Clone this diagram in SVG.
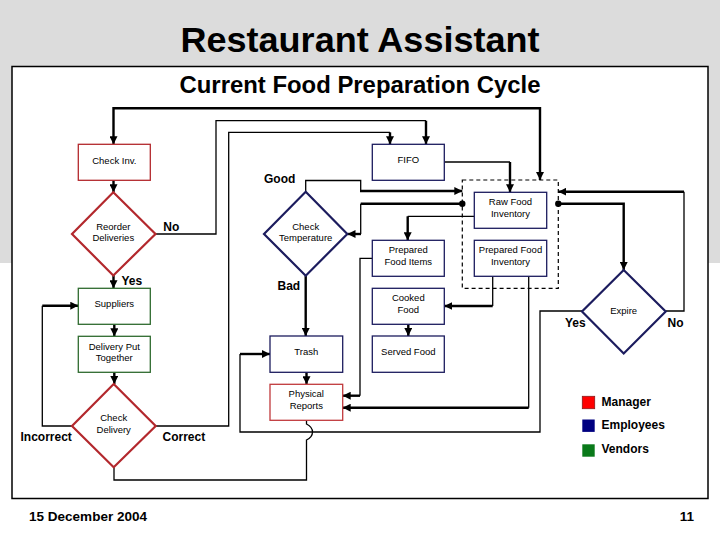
<svg xmlns="http://www.w3.org/2000/svg" width="720" height="540" viewBox="0 0 720 540">
<style>
.bx{fill:#fff;stroke-width:1.3}
.mgr{stroke:#b3282d}
.emp{stroke:#1c1c5e}
.ven{stroke:#2f6b2f}
.dm{fill:#fff;stroke-width:2.2}
.t{font-family:"Liberation Sans",Arial,sans-serif;font-size:9.5px;fill:#000;text-anchor:middle}
.lb{font-family:"Liberation Sans",Arial,sans-serif;font-size:12px;font-weight:bold;fill:#000}
.thin{fill:none;stroke:#000;stroke-width:1.3}
.thk{fill:none;stroke:#000;stroke-width:2.4}
.ar{marker-end:url(#ah)}
</style>
<defs>
<marker id="ah" markerUnits="userSpaceOnUse" markerWidth="8" markerHeight="8" refX="6" refY="3" orient="auto-start-reverse" viewBox="0 0 6 6">
<path d="M0,0 L6,3 L0,6 z" fill="#000"/>
</marker>
</defs>
<rect x="0" y="0" width="720" height="263" fill="#dcdcdc"/>
<rect x="0" y="263" width="720" height="277" fill="#fff"/>
<text x="360" y="52" font-family="Liberation Sans,Arial,sans-serif" font-size="35" font-weight="bold" text-anchor="middle" textLength="359" lengthAdjust="spacingAndGlyphs">Restaurant Assistant</text>
<rect x="12" y="66.5" width="696" height="432" fill="#fff" stroke="#000" stroke-width="1.5"/>
<text x="360" y="92.5" font-family="Liberation Sans,Arial,sans-serif" font-size="24" font-weight="bold" text-anchor="middle" textLength="361" lengthAdjust="spacingAndGlyphs">Current Food Preparation Cycle</text>

<g id="connectors">
<path class="thk ar" d="M113.5,144.3 V108.3 H540 V180" style="marker-start:url(#ah)"/>
<path class="thk ar" d="M113.5,180.3 V192.3"/>
<path class="thin" d="M156,234 H216 V120.7 H426"/>
<path class="thk ar" d="M426,120.7 V144.3"/>
<path class="thin" d="M155.7,426 H228.7 V132.3 H390"/>
<path class="thk ar" d="M390,132.3 V144.3"/>
<path class="thin" d="M444.3,162 H510"/>
<path class="thk ar" d="M510,162 V192.3"/>
<path class="thin" d="M305.7,191.7 V180.5 H360.7 V191"/>
<path class="thk ar" d="M360,191 H462.3"/>
<path class="thk" d="M462.3,203.7 H360.7"/>
<path class="thin" d="M360.7,203.7 V234"/>
<path class="thk ar" d="M361,234 H347.5"/>
<path class="thin" d="M474.3,216.3 H407.7"/>
<path class="thk ar" d="M407.7,216.3 V240.3"/>
<path class="thin" d="M372.3,258.3 H360 V395.7"/>
<path class="thk ar" d="M360,395.7 H342.7"/>
<path class="thin" d="M492.7,276.3 V306"/>
<path class="thk ar" d="M492.7,306 H444.3"/>
<path class="thk ar" d="M408.3,324.3 V336"/>
<path class="thin" d="M528.7,276.3 V407.7"/>
<path class="thk ar" d="M528.7,407.7 H342.7"/>
<path class="thk ar" d="M558.3,203.7 H623.7 V270"/>
<path class="thin" d="M665.7,311 H684 V191.7"/>
<path class="thk ar" d="M684,191.7 H558.3"/>
<path class="thin" d="M582,311 H540 V432 H240 V354"/>
<path class="thk ar" d="M240,354 H270"/>
<path class="thk ar" d="M305.7,275.7 V336"/>
<path class="thk ar" d="M306.5,372.3 V384.3"/>
<path class="thin" d="M306.5,420.3 V424 Q312.5,427 312.5,432 Q312.5,437 306.5,440 V480 H114 V467.3"/>
<path class="thk ar" d="M113.5,275 V288.3"/>
<path class="thk ar" d="M114.3,324.3 V336.3"/>
<path class="thk ar" d="M114.3,372.3 V384"/>
<path class="thin" d="M72,426 H42.3 V305.7"/>
<path class="thk ar" d="M42.3,305.7 H78.3"/>
<circle cx="462.3" cy="203.7" r="3.2" fill="#000"/>
<circle cx="558.3" cy="203.7" r="3.2" fill="#000"/>
</g>

<g id="inventory-group">
<rect x="462.3" y="180" width="96" height="108.3" fill="none" stroke="#000" stroke-width="1.2" stroke-dasharray="4,3"/>
</g>
<g id="check-inv"><rect class="bx mgr" x="78.3" y="144.3" width="72" height="36"/><text class="t" x="114.3" y="163.5">Check Inv.</text></g>
<g id="fifo"><rect class="bx emp" x="372.3" y="144.3" width="72" height="36"/><text class="t" x="408.3" y="162.8">FIFO</text></g>
<g id="reorder"><polygon class="dm mgr" points="113.3,192.3 155.5,234 113.3,275.5 72,234"/><text class="t" x="113.3" y="229.5">Reorder</text><text class="t" x="113.3" y="241">Deliveries</text></g>
<g id="check-temp"><polygon class="dm emp" points="305.7,191.7 347.3,234 305.7,275.7 264,234"/><text class="t" x="305.7" y="229.5">Check</text><text class="t" x="305.7" y="241">Temperature</text></g>
<g id="raw-food"><rect class="bx emp" x="474.3" y="192.3" width="72.4" height="36"/><text class="t" x="510.5" y="205">Raw Food</text><text class="t" x="510.5" y="217">Inventory</text></g>
<g id="prep-inv"><rect class="bx emp" x="474.3" y="240.3" width="72.4" height="36"/><text class="t" x="510.5" y="253">Prepared Food</text><text class="t" x="510.5" y="265">Inventory</text></g>
<g id="prep-items"><rect class="bx emp" x="372.3" y="240.3" width="72" height="36"/><text class="t" x="408.3" y="253">Prepared</text><text class="t" x="408.3" y="265">Food Items</text></g>
<g id="cooked"><rect class="bx emp" x="372.3" y="288.3" width="72" height="36"/><text class="t" x="408.3" y="301">Cooked</text><text class="t" x="408.3" y="313">Food</text></g>
<g id="served"><rect class="bx emp" x="372.3" y="336" width="72" height="36.3"/><text class="t" x="408.3" y="355">Served Food</text></g>
<g id="trash"><rect class="bx emp" x="270" y="336" width="72.7" height="36.3"/><text class="t" x="306.3" y="355">Trash</text></g>
<g id="physical"><rect class="bx" x="270" y="384.3" width="72.7" height="36" stroke="#c0393c"/><text class="t" x="306.3" y="397">Physical</text><text class="t" x="306.3" y="409">Reports</text></g>
<g id="expire"><polygon class="dm emp" points="623.7,270 665.7,311.5 623.7,353.5 582,311.5"/><text class="t" x="623.7" y="313.5">Expire</text></g>
<g id="suppliers"><rect class="bx ven" x="78.3" y="288.3" width="72" height="36"/><text class="t" x="114.3" y="307">Suppliers</text></g>
<g id="delivery"><rect class="bx ven" x="78.3" y="336.3" width="72" height="36"/><text class="t" x="114.3" y="349.5">Delivery Put</text><text class="t" x="114.3" y="361">Together</text></g>
<g id="check-delivery"><polygon class="dm mgr" points="113.7,384 155.7,426 113.7,467.3 72,426"/><text class="t" x="113.7" y="421">Check</text><text class="t" x="113.7" y="432.7">Delivery</text></g>

<g id="labels">
<text class="lb" x="163.3" y="231">No</text>
<text class="lb" x="121.5" y="285">Yes</text>
<text class="lb" x="264" y="183">Good</text>
<text class="lb" x="277.5" y="290">Bad</text>
<text class="lb" x="565" y="327">Yes</text>
<text class="lb" x="667.5" y="327">No</text>
<text class="lb" x="20.5" y="440.5">Incorrect</text>
<text class="lb" x="162.5" y="440.5">Correct</text>
</g>

<g id="legend">
<rect x="582.3" y="396.3" width="12.4" height="12.4" fill="#f00" stroke="#8a1a1a" stroke-width="0.8"/>
<text class="lb" x="601.5" y="405.5" font-size="11.5">Manager</text>
<rect x="582.3" y="419.5" width="12.4" height="12.4" fill="#000080"/>
<text class="lb" x="601.5" y="429">Employees</text>
<rect x="582.3" y="444.3" width="12.4" height="12.4" fill="#0a7a1a"/>
<text class="lb" x="601.5" y="453.3">Vendors</text>
</g>

<text x="29" y="521" font-family="Liberation Sans,Arial,sans-serif" font-size="13.5" font-weight="bold" textLength="118" lengthAdjust="spacingAndGlyphs">15 December 2004</text>
<text x="694" y="521" font-family="Liberation Sans,Arial,sans-serif" font-size="13.5" font-weight="bold" text-anchor="end">11</text>
</svg>
